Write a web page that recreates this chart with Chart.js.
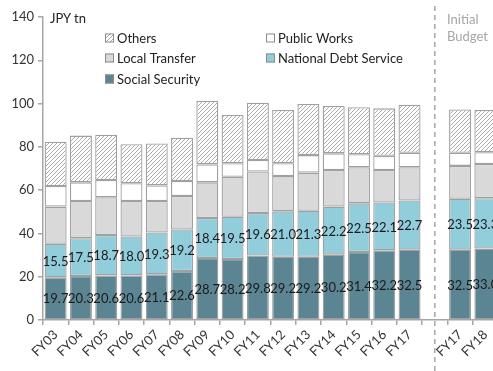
<!DOCTYPE html>
<html><head><meta charset="utf-8">
<script src="https://cdn.jsdelivr.net/npm/chart.js@4/dist/chart.umd.min.js"></script>
<style>
html,body{margin:0;padding:0;background:#fff;overflow:hidden;width:493px;height:371px;}
#wrap{position:absolute;left:0;top:0;width:500px;height:371px;}
.t{position:absolute;font-family:Lato,"Open Sans",sans-serif;font-size:13px;white-space:nowrap;line-height:16px;}
</style></head>
<body>
<div id="wrap"><canvas id="c" width="500" height="371"></canvas></div>
<div class="t" style="left:50px;top:10px;color:#222;">JPY tn</div>
<div class="t" style="left:447px;top:11px;color:#A6A6A6;">Initial</div>
<div class="t" style="left:447px;top:28px;color:#A6A6A6;">Budget</div>
<script>
const categories = ["FY03","FY04","FY05","FY06","FY07","FY08","FY09","FY10","FY11","FY12","FY13","FY14","FY15","FY16","FY17","","FY17","FY18"];
const socialSecurity = [19.7,20.3,20.6,20.6,21.1,22.6,28.7,28.2,29.8,29.2,29.2,30.2,31.4,32.2,32.5,null,32.5,33.0];
const nationalDebt   = [15.5,17.5,18.7,18.0,19.3,19.2,18.4,19.5,19.6,21.0,21.3,22.2,22.5,22.1,22.7,null,23.5,23.3];
const localTransfer  = [17.2,17.2,17.4,16.4,14.6,15.5,16.5,18.5,19.2,16.3,17.6,16.9,16.7,15.0,15.4,null,15.2,15.8];
const publicWorks    = [9.5,8.6,8.0,8.2,7.2,6.9,8.3,6.2,5.3,5.9,8.1,7.7,6.0,6.6,6.7,null,6.1,5.4];
const others         = [20.5,21.6,20.9,18.0,19.4,20.0,29.4,22.3,26.5,24.6,23.6,21.9,21.7,21.9,22.1,null,20.0,19.5];
const yTicks = [0,20,40,60,80,100,120,140];
const gapIndex = 15;

const canvas = document.getElementById('c');
const ctx = canvas.getContext('2d');
function hatch(){
  const s = 4;
  const c = document.createElement('canvas'); c.width = s; c.height = s;
  const g = c.getContext('2d');
  g.fillStyle = '#fff'; g.fillRect(0,0,s,s);
  g.strokeStyle = '#ABABAB'; g.lineWidth = 1;
  g.beginPath();
  g.moveTo(0,s); g.lineTo(s,0);
  g.moveTo(-s,s); g.lineTo(s,-s);
  g.moveTo(0,2*s); g.lineTo(2*s,0);
  g.stroke();
  return ctx.createPattern(c,'repeat');
}
const hatchPat = hatch();
const BORDER = '#A0A0A0';
const FONT = 'Lato, "Open Sans", sans-serif';

function ds(label, data, color){
  return {label, data, backgroundColor: color, borderColor: BORDER, borderWidth: 1.3, borderSkipped: false,
          barPercentage: 0.87, categoryPercentage: 1.0};
}

const labelPlugin = {
  id: 'segLabels',
  afterDatasetsDraw(chart){
    const c = chart.ctx;
    c.save();
    c.font = '13px ' + FONT;
    c.fillStyle = '#1a1a1a';
    c.textAlign = 'center';
    c.textBaseline = 'middle';
    [0,1].forEach(di => {
      const meta = chart.getDatasetMeta(di);
      const data = chart.data.datasets[di].data;
      meta.data.forEach((el, i) => {
        if (data[i] == null) return;
        c.fillText(data[i].toFixed(1), el.x, (el.y + el.base) / 2 + 1);
      });
    });
    // dashed separator
    const x = chart.scales.x.getPixelForValue(gapIndex);
    c.strokeStyle = '#A6A6A6';
    c.lineWidth = 1.5;
    c.setLineDash([5,4]);
    c.beginPath(); c.moveTo(x, 6); c.lineTo(x, chart.height); c.stroke();
    c.setLineDash([]);
    // legend
    const items = [
      {t:'Others', f: hatchPat, x:105, y:38},
      {t:'Public Works', f:'#fff', x:266, y:38},
      {t:'Local Transfer', f:'#D9D9D9', x:105, y:58},
      {t:'National Debt Service', f:'#92CDDC', x:266, y:58},
      {t:'Social Security', f:'#5B8592', x:105, y:79}
    ];
    c.textAlign = 'left';
    c.font = '13px ' + FONT;
    items.forEach(it => {
      c.fillStyle = it.f;
      c.fillRect(it.x, it.y - 4.5, 9, 9);
      c.strokeStyle = '#8C8C8C'; c.lineWidth = 1;
      c.strokeRect(it.x + 0.5, it.y - 4, 8, 8);
      c.fillStyle = '#222';
      c.fillText(it.t, it.x + 12, it.y + 1);
    });
    c.restore();
  }
};

new Chart(canvas, {
  type: 'bar',
  data: {
    labels: categories,
    datasets: [
      ds('Social Security', socialSecurity, '#5B8592'),
      ds('National Debt Service', nationalDebt, '#92CDDC'),
      ds('Local Transfer', localTransfer, '#D9D9D9'),
      ds('Public Works', publicWorks, '#FFFFFF'),
      ds('Others', others, hatchPat)
    ]
  },
  options: {
    responsive: false,
    animation: false,
    layout: {padding: {top: 17, right: 2, left: 0, bottom: 0}},
    plugins: {legend: {display: false}, tooltip: {enabled: false}},
    scales: {
      x: {
        stacked: true,
        grid: {display: true, offset: true, drawOnChartArea: false, drawTicks: true, tickLength: 5, color: '#A6A6A6', lineWidth: 1.5},
        border: {display: true, color: '#A6A6A6', width: 1.5},
        ticks: {maxRotation: 45, minRotation: 45, autoSkip: false, color: '#333', font: {family: FONT, size: 13}, padding: 2},
        afterFit(s){ s.height = 51; }
      },
      y: {
        stacked: true,
        min: 0, max: 140,
        afterBuildTicks(s){ s.ticks = yTicks.map(v => ({value: v})); },
        grid: {display: true, drawOnChartArea: false, drawTicks: true, tickLength: 5, color: '#A6A6A6', lineWidth: 1.5},
        border: {display: true, color: '#A6A6A6', width: 1.5},
        ticks: {color: '#333', font: {family: FONT, size: 13}, padding: 4},
        afterFit(s){ s.width = 43; }
      }
    }
  },
  plugins: [labelPlugin]
});
</script>
</body></html>
